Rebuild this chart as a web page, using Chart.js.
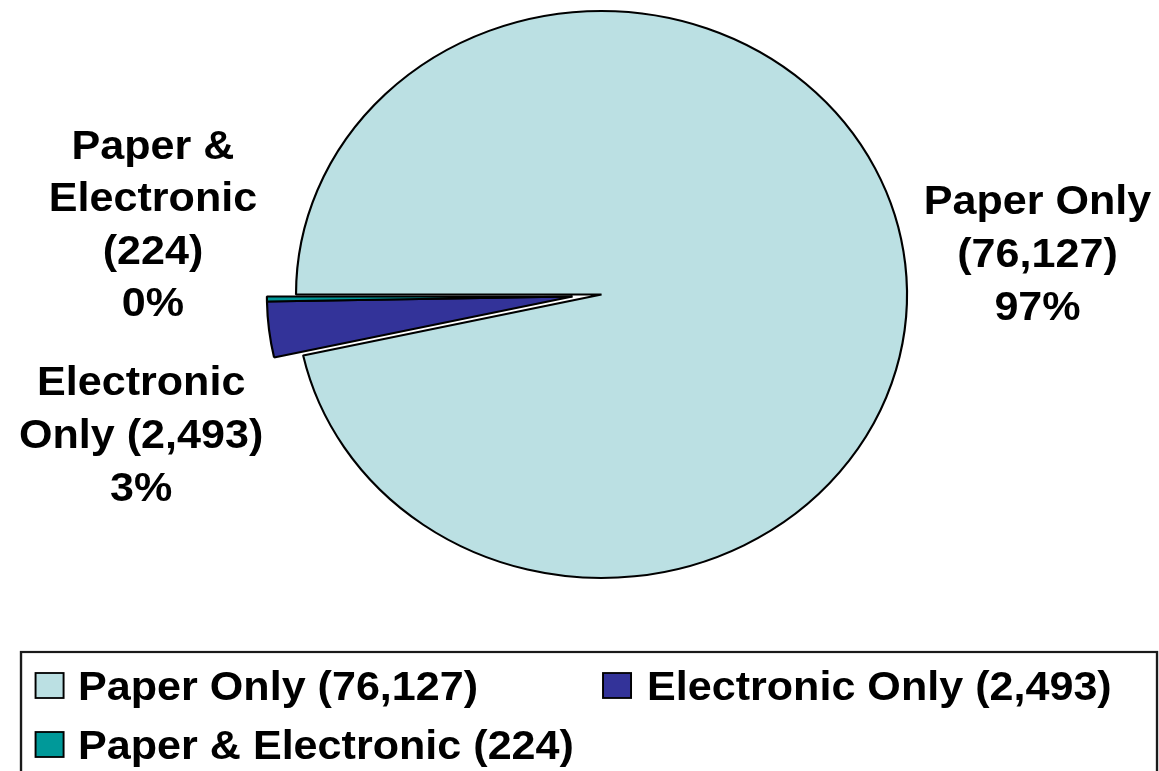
<!DOCTYPE html>
<html>
<head>
<meta charset="utf-8">
<script src="https://cdn.jsdelivr.net/npm/chart.js@4/dist/chart.umd.min.js"></script>
<style>
  html, body { margin: 0; padding: 0; background: #ffffff; }
  #wrap { position: relative; width: 1159px; height: 771px; overflow: hidden; }
  #wrap canvas { position: absolute; left: 0; top: 0; }
</style>
</head>
<body>
<div id="wrap">
  <canvas id="base" width="1159" height="771"></canvas>
  <canvas id="explode" width="1159" height="771"></canvas>
</div>
<script>
// ---- data ----
const categories = ['Paper Only', 'Electronic Only', 'Paper & Electronic'];
const counts = [76127, 2493, 224];
const sliceColors = ['#BBE0E3', '#333399', '#009999'];
const exploded = [false, true, true];

// ---- layout (logical coords, whole drawing is stretched horizontally) ----
const W = 1159, H = 771;
const STRETCH = 1.0776;
const CX = 558.2, CY = 294.5, R = 283.5;
const EXPLODE_DX = -27, EXPLODE_DY = 2;
const FONT = "bold 40px 'Liberation Sans', Arial, sans-serif";

const total = counts.reduce((a, b) => a + b, 0);
const pct = counts.map(v => Math.round(v / total * 100) + '%');
const fmt = v => v.toLocaleString('en-US');
const legendText = categories.map((c, i) => c + ' (' + fmt(counts[i]) + ')');

// label blocks: lines, center x, first baseline
const dataLabels = [
  { lines: ['Paper Only', '(' + fmt(counts[0]) + ')', pct[0]], x: 962.8, y: 214, lh: 53 },
  { lines: ['Electronic', 'Only (' + fmt(counts[1]) + ')', pct[1]], x: 131, y: 395, lh: 53 },
  { lines: ['Paper &', 'Electronic', '(' + fmt(counts[2]) + ')', pct[2]], x: 142, y: 159, lh: 52.3 }
];
const legendItems = [
  { idx: 0, x: 33, y: 673, tx: 72.4, ty: 700 },
  { idx: 1, x: 559.6, y: 673, tx: 600.4, ty: 700 },
  { idx: 2, x: 33, y: 732, tx: 72.4, ty: 759 }
];

const stretchPlugin = {
  id: 'stretch',
  beforeDraw(chart) { chart.ctx.save(); chart.ctx.scale(STRETCH, 1); },
  afterDraw(chart) {
    const ctx = chart.ctx;
    if (chart.options.plugins.textLayer && chart.options.plugins.textLayer.on) {
      ctx.save();
      ctx.font = FONT;
      ctx.fillStyle = '#000';
      ctx.textAlign = 'center';
      ctx.textBaseline = 'alphabetic';
      dataLabels.forEach(b => {
        b.lines.forEach((t, k) => ctx.fillText(t, b.x, b.y + k * b.lh));
      });
      // legend box
      ctx.lineWidth = 2.2;
      ctx.strokeStyle = '#1a1a1a';
      ctx.strokeRect(19.5, 652, 1054.2, 140);
      ctx.textAlign = 'left';
      legendItems.forEach(it => {
        ctx.fillStyle = sliceColors[it.idx];
        ctx.fillRect(it.x, it.y, 26, 25);
        ctx.lineWidth = 1.8;
        ctx.strokeStyle = '#000';
        ctx.strokeRect(it.x, it.y, 26, 25);
        ctx.fillStyle = '#000';
        ctx.fillText(legendText[it.idx], it.tx, it.ty);
      });
      ctx.restore();
    }
    ctx.restore();
  }
};

function pieChart(id, cx, cy, showMask, textOn) {
  return new Chart(document.getElementById(id), {
    type: 'pie',
    data: {
      labels: categories,
      datasets: [{
        data: counts,
        backgroundColor: sliceColors.map((c, i) => exploded[i] === showMask ? c : 'rgba(0,0,0,0)'),
        borderColor: sliceColors.map((c, i) => exploded[i] === showMask ? '#000000' : 'rgba(0,0,0,0)'),
        borderWidth: sliceColors.map((c, i) => exploded[i] === showMask ? 2 : 0),
        clip: false
      }]
    },
    options: {
      responsive: false,
      animation: false,
      devicePixelRatio: 1,
      rotation: 270,
      radius: R,
      layout: { padding: { left: 0, top: 0, right: W - 2 * cx, bottom: H - 2 * cy } },
      events: [],
      plugins: {
        legend: { display: false },
        tooltip: { enabled: false },
        textLayer: { on: textOn }
      }
    },
    plugins: [stretchPlugin]
  });
}

pieChart('base', CX, CY, false, true);
pieChart('explode', CX + EXPLODE_DX, CY + EXPLODE_DY, true, false);
</script>
</body>
</html>
